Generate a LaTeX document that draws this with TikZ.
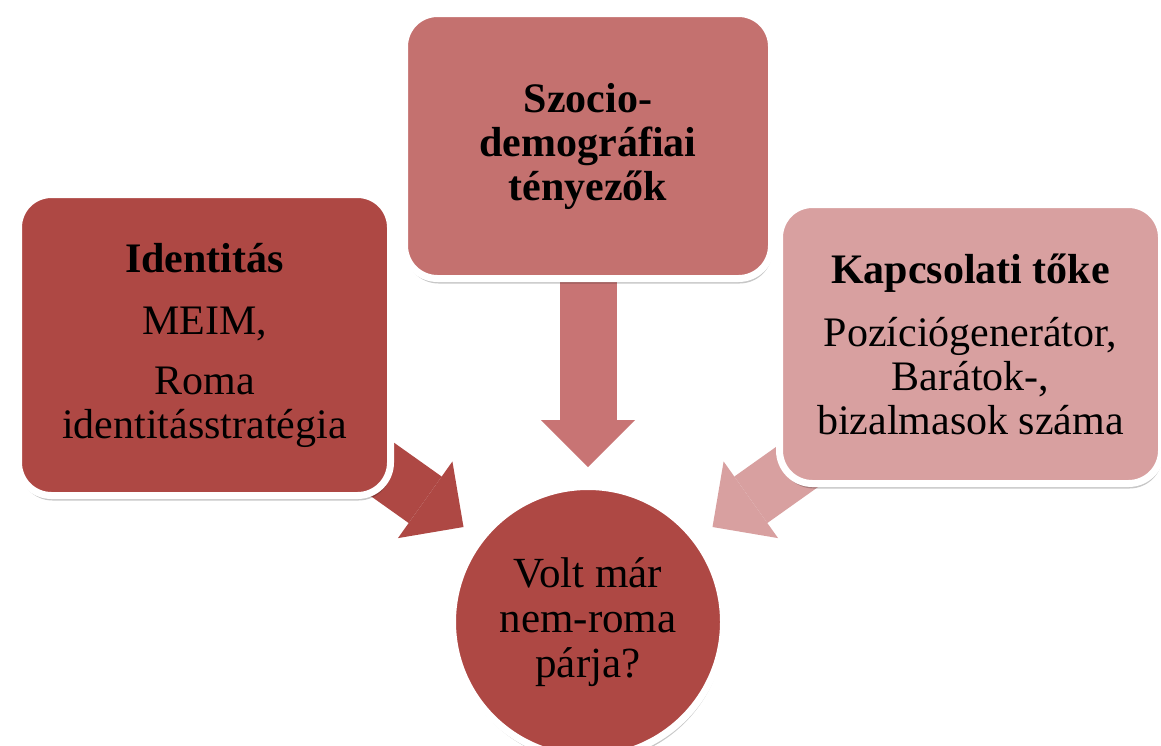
\documentclass[tikz,border=0pt]{standalone}
\usepackage{fontspec}
\setmainfont{Liberation Serif}
\usetikzlibrary{arrows.meta,shadows}
\definecolor{cdark}{HTML}{AE4844}
\definecolor{cmid}{HTML}{C4716F}
\definecolor{clight}{HTML}{D8A0A0}
\definecolor{carrmid}{HTML}{C87474}
\begin{document}
\begin{tikzpicture}[x=1pt,y=-1pt,
  card/.style={draw=white, line width=7pt, rounded corners=33pt, align=center,
    inner sep=0pt, font=\fontsize{42}{44}\selectfont,
    drop shadow={shadow xshift=1pt, shadow yshift=-5pt, opacity=0.22, fill=black}},
  roundcard/.style={circle, draw=white, line width=7pt, align=center,
    inner sep=0pt, font=\fontsize{43}{45}\selectfont,
    drop shadow={shadow xshift=1pt, shadow yshift=-5pt, opacity=0.22, fill=black}},
  bigarrow/.style={line width=57pt, -{Triangle[width=94pt,length=47pt,line width=0pt]}},
]
\useasboundingbox (0,0) rectangle (1161,745);
\fill[white] (0,0) rectangle (1161,745);

% connectors (behind the boxes)
\coordinate (lS) at (303,413);
\coordinate (lT) at (463.5,527);
\coordinate (rS) at (873,413);
\coordinate (rT) at (712.5,527);
\coordinate (mS) at (588,250);
\coordinate (mT) at (588,467);
\draw[bigarrow, color=cdark] (lS) -- (lT);
\draw[bigarrow, color=clight] (rS) -- (rT);
\draw[bigarrow, color=carrmid] (mS) -- (mT);

% boxes
\node[card, fill=cdark, minimum width=372pt, minimum height=301pt] (ident) at (204.5,345)
  {\textbf{Identitás}\\[18pt]MEIM,\\[16pt]Roma\\identitásstratégia};
\node[card, fill=cmid, minimum width=367pt, minimum height=265pt] (szoc) at (588,146)
  {\bfseries Szocio-\\\bfseries demográfiai\\\bfseries tényezők};
\node[card, fill=clight, minimum width=382pt, minimum height=279pt] (kapcs) at (970.5,344)
  {\textbf{Kapcsolati tőke}\\[19pt]Pozíciógenerátor,\\Barátok-,\\bizalmasok száma};
\node[roundcard, fill=cdark, minimum size=271pt] (volt) at (588,622)
  {Volt már\\nem-roma\\párja?};
\end{tikzpicture}
\end{document}
